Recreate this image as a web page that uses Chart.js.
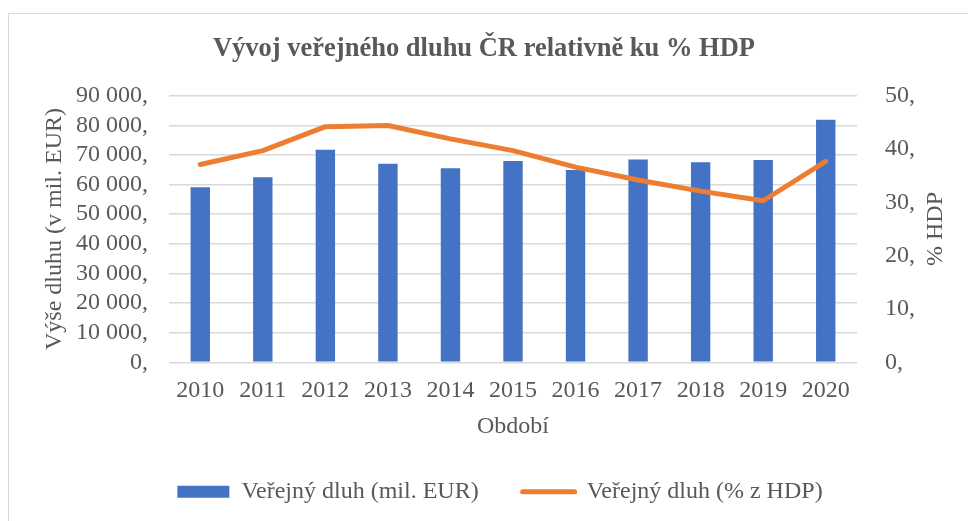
<!DOCTYPE html>
<html>
<head>
<meta charset="utf-8">
<script src="https://cdn.jsdelivr.net/npm/chart.js@4"></script>
<style>
  html, body { margin: 0; padding: 0; background: #fff; overflow: hidden; }
  #frame { position: absolute; left: 8px; top: 13px; width: 1000px; height: 600px; border: 1px solid #d9d9d9; box-sizing: border-box; }
  #c { position: absolute; left: 0; top: 0; }
</style>
</head>
<body>
<div id="frame"></div>
<canvas id="c" width="968" height="521"></canvas>
<script>
const chartTitle = 'Vývoj veřejného dluhu ČR relativně ku % HDP';
const years = ['2010','2011','2012','2013','2014','2015','2016','2017','2018','2019','2020'];
const debtEUR = [59060, 62440, 71750, 67030, 65470, 67940, 64900, 68500, 67500, 68270, 81880];
const debtPctGDP = [37.1, 39.7, 44.2, 44.4, 41.9, 39.7, 36.6, 34.2, 32.1, 30.3, 37.7];
const seriesNames = ['Veřejný dluh (mil. EUR)', 'Veřejný dluh (% z HDP)'];
const leftAxisTitle = 'Výše dluhu (v mil. EUR)';
const rightAxisTitle = '% HDP';
const xAxisTitle = 'Období';

const FONT = "'Liberation Serif', 'Times New Roman', serif";
const TXT = '#595959';
const FS = 24;

function fmt(v) {
  return String(v).replace(/\B(?=(\d{3})+(?!\d))/g, ' ') + ',';
}

const extras = {
  id: 'extras',
  afterLayout(chart) {
    const lg = chart.legend;
    if (lg) { lg.left += 16; lg.right += 16; lg.top -= 7.3; lg.bottom -= 7.3; }
  },
  afterDraw(chart) {
    const ctx = chart.ctx;
    const a = chart.chartArea;
    ctx.save();
    ctx.translate(936, (a.top + a.bottom) / 2);
    ctx.rotate(-Math.PI / 2);
    ctx.font = FS + 'px ' + FONT;
    ctx.fillStyle = TXT;
    ctx.textAlign = 'center';
    ctx.textBaseline = 'middle';
    ctx.fillText(rightAxisTitle, 0, 0);
    ctx.restore();
  }
};

new Chart(document.getElementById('c'), {
  data: {
    labels: years,
    datasets: [
      {
        type: 'bar',
        label: seriesNames[0],
        data: debtEUR,
        backgroundColor: '#4472C4',
        borderWidth: 0,
        barPercentage: 0.31,
        categoryPercentage: 1,
        yAxisID: 'y',
        order: 2
      },
      {
        type: 'line',
        label: seriesNames[1],
        data: debtPctGDP,
        borderColor: '#ED7D31',
        backgroundColor: '#ED7D31',
        borderWidth: 5,
        borderCapStyle: 'round',
        borderJoinStyle: 'round',
        pointRadius: 0,
        tension: 0,
        yAxisID: 'y1',
        order: 1
      }
    ]
  },
  options: {
    responsive: false,
    animation: false,
    layout: { padding: { top: 0, left: 0, right: 0, bottom: 0 } },
    plugins: {
      title: {
        display: true,
        text: chartTitle,
        color: TXT,
        font: { family: FONT, size: 26.5, weight: 'bold' },
        padding: { top: 33.5, bottom: 30.4 }
      },
      legend: {
        position: 'bottom',
        maxHeight: 80,
        labels: {
          color: TXT,
          font: { family: FONT, size: FS },
          usePointStyle: true,
          pointStyleWidth: 52,
          boxHeight: 12,
          padding: 44,
          sort: (a, b) => a.datasetIndex - b.datasetIndex,
          generateLabels(chart) {
            const items = Chart.defaults.plugins.legend.labels.generateLabels(chart);
            items.forEach(it => {
              if (it.datasetIndex === 0) { it.pointStyle = 'rect'; it.lineWidth = 0; it.strokeStyle = 'rgba(0,0,0,0)'; }
              else { it.pointStyle = 'line'; it.lineWidth = 5; it.lineCap = 'round'; it.strokeStyle = '#ED7D31'; }
            });
            return items;
          }
        }
      },
      tooltip: { enabled: false }
    },
    scales: {
      x: {
        grid: { display: false, drawTicks: false },
        border: { display: false },
        ticks: { color: TXT, font: { family: FONT, size: FS }, padding: 13.6, maxRotation: 0, autoSkip: false },
        title: { display: true, text: xAxisTitle, color: TXT, font: { family: FONT, size: FS }, padding: { top: -6.1, bottom: 2 } }
      },
      y: {
        position: 'left',
        min: 0, max: 90000,
        ticks: { stepSize: 10000, autoSkip: false, color: TXT, font: { family: FONT, size: FS }, padding: 21, callback: v => fmt(v) },
        grid: { color: '#d9d9d9', lineWidth: 1.5, drawTicks: false },
        border: { display: false },
        title: { display: true, text: leftAxisTitle, color: TXT, font: { family: FONT, size: FS }, padding: { top: 40.6, bottom: 0 } },
        afterFit(s) { s.width = 169; }
      },
      y1: {
        position: 'right',
        min: 0, max: 50,
        ticks: { stepSize: 10, autoSkip: false, color: TXT, font: { family: FONT, size: FS }, padding: 28, callback: v => fmt(v) },
        grid: { drawOnChartArea: false, drawTicks: false },
        border: { display: false },
        afterFit(s) { s.width = 111; }
      }
    }
  },
  plugins: [extras]
});
</script>
</body>
</html>
